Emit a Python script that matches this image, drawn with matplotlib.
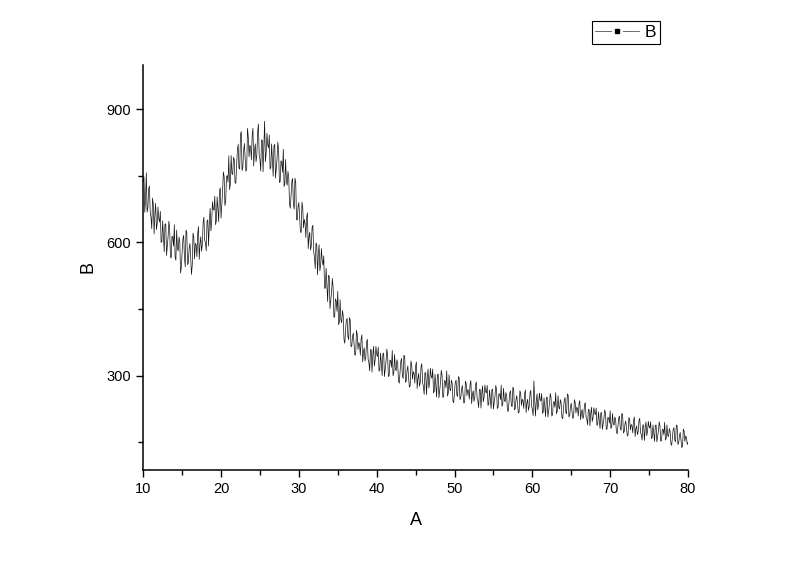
import numpy as np
import matplotlib
matplotlib.use("Agg")
import matplotlib.pyplot as plt
from matplotlib.ticker import MultipleLocator
from matplotlib.lines import Line2D

plt.rcParams['font.family'] = ['Liberation Sans', 'DejaVu Sans']

# 2-theta (A) from 10 to 80 in 0.1 steps
angle_start = 10.0
angle_step = 0.1

# intensity (B), 10 readings per degree
intensity = [
    737, 748, 668, 696, 757, 668, 678, 721, 727, 669,   # 10
    657, 631, 700, 686, 619, 665, 688, 629, 643, 680,   # 11
    654, 646, 670, 600, 602, 649, 614, 579, 641, 642,   # 12
    571, 592, 614, 648, 632, 568, 565, 614, 612, 592,   # 13
    640, 567, 560, 628, 586, 581, 612, 602, 531, 545,   # 14
    576, 608, 616, 566, 545, 628, 623, 550, 554, 586,   # 15
    598, 567, 528, 548, 621, 613, 563, 598, 595, 568,   # 16
    619, 636, 562, 596, 613, 580, 596, 645, 657, 605,   # 17
    599, 581, 648, 651, 592, 646, 677, 626, 647, 692,   # 18
    674, 673, 704, 640, 649, 703, 675, 647, 715, 723,   # 19
    655, 685, 714, 759, 748, 683, 692, 747, 751, 736,   # 20
    795, 719, 732, 796, 755, 753, 792, 786, 735, 733,   # 21
    772, 809, 821, 768, 765, 843, 850, 762, 769, 806,   # 22
    823, 789, 760, 766, 857, 838, 793, 819, 815, 786,   # 23
    842, 857, 772, 807, 822, 782, 797, 847, 867, 797,   # 24
    787, 761, 831, 830, 759, 814, 873, 782, 801, 846,   # 25
    820, 813, 842, 765, 769, 822, 786, 749, 818, 821,   # 26
    745, 767, 789, 826, 808, 735, 737, 784, 781, 758,   # 27
    810, 726, 732, 787, 738, 729, 760, 746, 686, 677,   # 28
    708, 738, 744, 684, 675, 745, 735, 651, 651, 682,   # 29
    690, 654, 623, 623, 691, 678, 633, 652, 643, 611,   # 30
    657, 667, 586, 613, 623, 583, 592, 634, 639, 580,   # 31
    567, 541, 599, 595, 527, 573, 595, 536, 549, 586,   # 32
    559, 549, 570, 497, 497, 542, 504, 467, 526, 524,   # 33
    451, 469, 488, 519, 500, 432, 432, 473, 468, 445,   # 34
    490, 415, 420, 471, 426, 419, 447, 435, 381, 373,   # 35
    403, 425, 429, 388, 381, 431, 425, 365, 367, 389,   # 36
    396, 369, 346, 348, 402, 393, 359, 375, 370, 346,   # 37
    383, 392, 331, 353, 363, 333, 342, 376, 382, 337,   # 38
    329, 311, 359, 358, 308, 346, 366, 322, 335, 366,   # 39
    348, 343, 364, 310, 313, 351, 326, 300, 349, 351,   # 40
    298, 315, 332, 360, 348, 298, 300, 335, 334, 319,   # 41
    357, 300, 307, 348, 315, 311, 336, 328, 288, 283,   # 42
    308, 332, 339, 299, 294, 346, 343, 285, 288, 312,   # 43
    322, 296, 274, 277, 333, 325, 292, 309, 306, 283,   # 44
    321, 331, 271, 294, 305, 276, 285, 321, 327, 284,   # 45
    276, 258, 307, 306, 257, 295, 315, 272, 285, 317,   # 46
    299, 294, 315, 261, 265, 303, 277, 252, 301, 304,   # 47
    250, 267, 285, 312, 301, 251, 253, 289, 288, 273,   # 48
    311, 254, 261, 302, 270, 266, 290, 283, 243, 239,   # 49
    264, 285, 290, 257, 253, 298, 295, 246, 249, 269,   # 50
    278, 257, 238, 241, 288, 282, 255, 269, 266, 247,   # 51
    280, 289, 237, 258, 266, 242, 251, 280, 286, 249,   # 52
    243, 228, 269, 269, 227, 259, 277, 241, 253, 279,   # 53
    264, 261, 278, 233, 236, 268, 247, 226, 268, 270,   # 54
    225, 240, 254, 278, 269, 226, 229, 259, 259, 246,   # 55
    279, 231, 236, 272, 245, 241, 262, 256, 223, 219,   # 56
    240, 261, 266, 233, 230, 274, 271, 223, 226, 246,   # 57
    255, 234, 216, 218, 266, 260, 233, 247, 244, 226,   # 58
    259, 268, 217, 238, 247, 222, 231, 261, 267, 231,   # 59
    225, 210, 288, 251, 209, 241, 259, 223, 235, 261,   # 60
    246, 243, 260, 215, 218, 250, 229, 208, 250, 252,   # 61
    207, 222, 237, 260, 251, 209, 212, 241, 241, 229,   # 62
    262, 214, 220, 255, 228, 225, 246, 239, 206, 203,   # 63
    224, 245, 251, 217, 214, 259, 256, 207, 210, 231,   # 64
    238, 219, 204, 206, 246, 240, 216, 229, 226, 209,   # 65
    237, 244, 201, 217, 224, 203, 210, 235, 239, 208,   # 66
    202, 189, 224, 223, 187, 214, 229, 197, 206, 228,   # 67
    216, 212, 227, 188, 191, 218, 199, 181, 216, 217,   # 68
    179, 191, 204, 223, 215, 179, 180, 206, 205, 193,   # 69
    221, 181, 185, 215, 191, 189, 207, 201, 173, 169,   # 70
    187, 205, 209, 181, 177, 215, 213, 171, 174, 191,   # 71
    198, 180, 164, 167, 206, 201, 178, 190, 188, 171,   # 72
    199, 207, 163, 180, 187, 167, 174, 199, 204, 172,   # 73
    167, 155, 189, 189, 154, 182, 196, 165, 175, 197,   # 74
    185, 182, 196, 158, 161, 189, 170, 152, 188, 189,   # 75
    151, 164, 176, 196, 187, 152, 154, 179, 179, 167,   # 76
    195, 155, 159, 189, 165, 163, 181, 175, 147, 143,   # 77
    161, 179, 183, 155, 151, 189, 187, 145, 148, 165,   # 78
    172, 154, 138, 141, 180, 175, 152, 164, 162, 145,   # 79
    150,                                                # 80
]
angle = angle_start + angle_step * np.arange(len(intensity))

x_label = "A"
y_label = "B"
series_label = "B"

fig = plt.figure(figsize=(8.0, 5.64), dpi=100)
ax = fig.add_axes([0.179, 0.167, 0.681, 0.718])

ax.plot(angle, intensity, color="#111111", lw=0.5)

ax.set_xlim(10, 80)
ax.set_ylim(88, 1000)
ax.xaxis.set_major_locator(MultipleLocator(10))
ax.xaxis.set_minor_locator(MultipleLocator(5))
ax.yaxis.set_major_locator(MultipleLocator(300))
ax.yaxis.set_minor_locator(MultipleLocator(150))
ax.tick_params(which="major", direction="out", length=5, width=1,
               labelsize=10.5, pad=4)
ax.tick_params(which="minor", direction="out", length=3.5, width=1)
for s in ("top", "right"):
    ax.spines[s].set_visible(False)
for s in ("left", "bottom"):
    ax.spines[s].set_linewidth(1.1)

ax.set_xlabel(x_label, fontsize=13, labelpad=11)
ax.set_ylabel(y_label, fontsize=13, labelpad=7)

h_line = Line2D([], [], color="#555555", lw=0.6)
h_gap = Line2D([], [], ls="none", marker="o", markersize=7,
               markerfacecolor="white", markeredgecolor="white")
h_mark = Line2D([], [], ls="none", marker="s", markersize=2.5,
                markerfacecolor="black", markeredgecolor="black")
leg = fig.legend([(h_line, h_gap, h_mark)], [series_label], loc="upper left",
                 bbox_to_anchor=(0.74, 0.962), frameon=True, fancybox=False,
                 edgecolor="black", framealpha=1, fontsize=12.5,
                 handlelength=2.5, borderpad=0.2, handletextpad=0.35,
                 borderaxespad=0)
leg.get_frame().set_linewidth(0.8)

fig.savefig("out.png", dpi=100)
